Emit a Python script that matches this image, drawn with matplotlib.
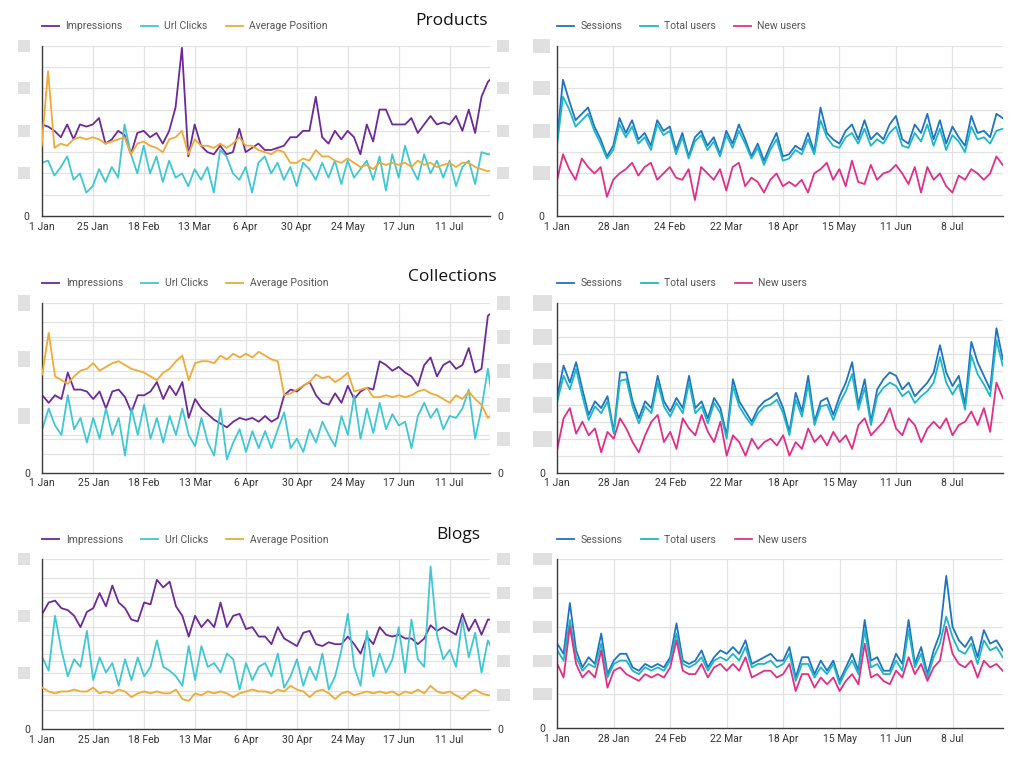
import pandas as pd
import matplotlib.pyplot as plt
from matplotlib.patches import Rectangle

plt.rcParams['font.family'] = ['Roboto', 'DejaVu Sans']

# Data: one value every 3 days, 1 Jan 2024 -> 1 Aug 2024 (72 points)
dates = pd.date_range('2024-01-01', periods=72, freq='3D')

# Products
prod_impressions = [4.3, 4.2, 4.0, 3.7, 4.3, 3.6, 4.3, 4.2, 4.3, 4.6, 3.4, 3.6,
                    4.0, 3.8, 2.9, 3.9, 4.0, 3.7, 3.9, 3.4, 4.0, 5.1, 7.9, 2.8,
                    4.3, 3.3, 3.0, 2.9, 3.3, 2.9, 3.0, 4.1, 3.0, 3.2, 3.4, 3.1,
                    3.1, 3.2, 3.3, 3.7, 3.7, 4.0, 4.0, 5.6, 3.7, 3.4, 4.0, 3.6,
                    4.0, 3.7, 2.9, 4.3, 3.5, 5.0, 5.0, 4.3, 4.3, 4.3, 4.6, 3.9,
                    4.3, 4.7, 4.3, 4.4, 4.3, 4.7, 4.0, 5.0, 3.9, 5.6, 6.3, 6.6]
prod_clicks = [2.5, 2.6, 1.9, 2.3, 2.8, 1.7, 2.0, 1.1, 1.4, 2.2, 1.6, 2.3,
               1.8, 4.3, 2.9, 2.0, 3.3, 2.0, 2.8, 1.6, 2.6, 1.8, 2.0, 1.4,
               2.2, 1.7, 2.3, 1.1, 3.1, 2.8, 2.0, 1.7, 2.3, 1.1, 2.5, 2.8,
               2.0, 2.5, 1.7, 2.3, 1.4, 2.5, 2.2, 1.7, 2.5, 1.8, 2.6, 1.5,
               2.6, 1.8, 2.2, 2.6, 1.7, 2.8, 1.2, 2.9, 1.8, 3.3, 2.3, 1.7,
               2.9, 2.0, 2.6, 1.8, 2.6, 1.4, 2.3, 2.6, 1.5, 3.0, 2.9, 2.9]
prod_position = [3.3, 6.8, 3.2, 3.4, 3.3, 3.6, 3.7, 3.6, 3.7, 3.6, 3.4, 3.5,
                 3.6, 3.7, 2.9, 3.4, 3.5, 3.3, 3.2, 3.0, 3.6, 3.7, 4.0, 2.9,
                 3.6, 3.3, 3.3, 3.2, 3.4, 3.2, 3.4, 3.7, 3.3, 3.3, 3.1, 3.0,
                 2.9, 3.1, 3.0, 2.5, 2.5, 2.7, 2.6, 3.1, 2.8, 2.8, 2.6, 2.5,
                 2.7, 2.5, 2.3, 2.4, 2.2, 2.5, 2.4, 2.5, 2.4, 2.5, 2.3, 2.6,
                 2.4, 2.5, 2.3, 2.4, 2.5, 2.3, 2.5, 2.5, 2.3, 2.2, 2.1, 2.2]
prod_sessions = [3.4, 6.4, 5.4, 4.5, 4.8, 5.1, 4.2, 3.6, 2.8, 3.3, 4.6, 3.9,
                 4.5, 3.6, 3.9, 3.3, 4.5, 4.0, 4.2, 3.1, 3.9, 2.8, 3.7, 4.0,
                 3.3, 3.7, 2.9, 4.0, 3.4, 4.3, 3.6, 2.8, 3.4, 2.6, 3.3, 3.9,
                 2.8, 2.9, 3.3, 3.1, 3.9, 3.0, 5.1, 3.9, 3.6, 3.4, 4.0, 4.3,
                 3.6, 4.5, 3.6, 3.9, 3.6, 4.3, 4.7, 3.6, 3.4, 4.3, 3.9, 4.8,
                 3.6, 4.5, 3.4, 4.2, 3.7, 3.3, 4.7, 3.9, 4.0, 3.7, 4.8, 4.6]
prod_users = [3.2, 5.6, 5.0, 4.2, 4.5, 4.8, 4.0, 3.4, 2.7, 3.1, 4.3, 3.7,
              4.2, 3.4, 3.7, 3.1, 4.3, 3.8, 4.0, 2.9, 3.7, 2.7, 3.5, 3.8,
              3.1, 3.5, 2.8, 3.8, 3.2, 4.0, 3.4, 2.7, 3.2, 2.4, 3.1, 3.6,
              2.6, 2.7, 3.1, 2.9, 3.6, 2.9, 4.5, 3.7, 3.3, 3.2, 3.7, 3.9,
              3.4, 4.1, 3.3, 3.6, 3.4, 3.9, 4.2, 3.3, 3.2, 3.9, 3.5, 4.3,
              3.3, 4.1, 3.1, 3.8, 3.5, 3.0, 4.2, 3.6, 3.7, 3.4, 4.0, 4.1]
prod_new_users = [1.6, 2.9, 2.2, 1.7, 2.7, 2.3, 2.0, 2.3, 0.9, 1.7, 2.0, 2.2,
                  2.5, 1.9, 2.3, 2.5, 1.7, 2.0, 2.3, 1.8, 1.7, 2.2, 0.75, 2.3,
                  2.0, 1.7, 2.2, 1.2, 2.3, 2.5, 1.4, 1.8, 1.6, 1.1, 1.7, 2.0,
                  1.4, 1.6, 1.4, 1.7, 1.1, 2.0, 2.2, 2.5, 1.7, 2.2, 1.4, 2.6,
                  1.6, 1.5, 2.4, 1.7, 2.0, 2.1, 2.4, 2.0, 1.5, 2.3, 1.1, 2.3,
                  1.7, 2.0, 1.4, 1.1, 1.9, 1.7, 2.2, 2.0, 1.7, 2.0, 2.8, 2.4]

# Collections
coll_impressions = [4.1, 3.7, 4.1, 3.9, 5.3, 4.4, 4.4, 4.3, 3.9, 4.3, 3.4, 4.3,
                    4.4, 4.0, 3.2, 4.1, 4.1, 4.3, 4.8, 3.9, 4.6, 4.1, 4.8, 2.9,
                    3.9, 3.4, 3.1, 2.8, 2.6, 2.4, 2.7, 2.9, 2.8, 2.9, 2.7, 3.0,
                    2.7, 2.9, 4.1, 4.4, 4.3, 4.6, 4.8, 4.1, 3.7, 3.6, 4.2, 3.7,
                    4.6, 3.9, 4.3, 4.5, 4.4, 5.9, 5.7, 5.4, 5.6, 5.3, 5.1, 4.6,
                    5.7, 6.1, 5.1, 5.7, 5.9, 5.5, 5.7, 6.6, 5.3, 5.5, 8.3, 8.6]
coll_clicks = [2.3, 3.4, 2.5, 2.0, 4.1, 2.3, 2.9, 1.6, 2.9, 1.8, 3.4, 2.0,
               2.9, 0.9, 3.4, 2.0, 3.6, 1.8, 2.9, 1.6, 3.0, 2.0, 3.4, 2.0,
               1.4, 2.9, 1.6, 0.9, 3.4, 0.7, 1.6, 2.3, 1.1, 2.2, 1.3, 2.2,
               1.3, 2.3, 3.2, 1.3, 1.8, 1.1, 2.3, 1.6, 2.7, 2.0, 1.4, 3.0,
               2.0, 4.1, 1.8, 3.4, 2.1, 3.7, 2.3, 3.1, 2.5, 2.7, 1.3, 3.0,
               3.7, 2.9, 3.4, 2.3, 3.0, 2.9, 3.4, 4.4, 1.8, 3.4, 5.5, 3.2]
coll_position = [5.2, 7.4, 5.1, 4.9, 4.7, 5.1, 5.4, 5.5, 5.8, 5.4, 5.6, 5.8,
                 5.9, 5.7, 5.5, 5.4, 5.3, 5.1, 4.9, 5.3, 5.5, 5.9, 6.2, 4.9,
                 5.8, 5.9, 5.9, 5.8, 6.2, 6.0, 6.3, 6.1, 6.3, 6.1, 6.4, 6.2,
                 6.0, 5.9, 4.1, 4.2, 4.4, 4.6, 4.8, 5.2, 5.0, 5.1, 4.8, 5.0,
                 5.3, 4.3, 4.4, 4.5, 4.0, 4.0, 4.1, 4.0, 4.1, 4.0, 4.1, 4.3,
                 4.4, 4.2, 4.1, 3.9, 3.7, 4.1, 3.9, 4.3, 3.9, 3.6, 2.9, 3.2]
coll_sessions = [4.5, 6.3, 5.3, 6.5, 4.9, 3.4, 4.2, 3.8, 4.5, 2.4, 5.9, 5.9,
                 4.2, 3.2, 4.2, 3.8, 5.7, 4.2, 3.6, 4.4, 3.8, 5.7, 3.8, 4.2,
                 3.2, 4.4, 3.8, 2.2, 5.5, 4.2, 3.6, 3.0, 3.8, 4.2, 4.4, 4.7,
                 3.8, 2.4, 4.7, 3.6, 5.7, 3.0, 4.2, 4.4, 3.4, 4.5, 5.3, 6.5,
                 4.0, 5.5, 3.0, 4.9, 5.5, 5.9, 5.7, 4.9, 5.3, 4.5, 4.9, 5.3,
                 5.9, 7.5, 5.9, 5.1, 5.7, 4.0, 7.7, 6.5, 5.7, 4.9, 8.5, 6.7]
coll_users = [4.2, 5.7, 4.9, 6.1, 4.5, 3.1, 3.9, 3.5, 4.2, 2.3, 5.4, 5.5,
              3.9, 2.9, 3.9, 3.5, 5.3, 3.9, 3.3, 4.1, 3.5, 5.3, 3.5, 3.9,
              2.9, 4.1, 3.5, 2.0, 5.1, 3.9, 3.3, 2.8, 3.5, 3.9, 4.0, 4.3,
              3.5, 2.2, 4.3, 3.3, 5.2, 2.8, 3.9, 4.0, 3.1, 4.1, 4.8, 5.8,
              3.7, 5.0, 2.8, 4.5, 5.0, 5.3, 5.1, 4.5, 4.8, 4.1, 4.5, 4.8,
              5.3, 6.8, 5.3, 4.6, 5.2, 3.7, 6.9, 5.8, 5.2, 4.5, 7.8, 6.3]
coll_new_users = [1.4, 3.2, 3.8, 2.3, 3.0, 2.2, 2.6, 1.2, 2.4, 2.0, 3.2, 2.6,
                  1.8, 1.2, 2.2, 3.0, 3.4, 1.8, 2.4, 1.4, 3.2, 2.6, 2.2, 3.4,
                  2.4, 1.8, 3.0, 1.0, 2.2, 1.8, 1.0, 2.0, 1.4, 1.8, 2.0, 1.6,
                  2.2, 1.0, 1.8, 1.4, 2.6, 1.8, 2.2, 1.6, 2.4, 1.8, 2.2, 1.4,
                  2.8, 3.2, 2.2, 2.6, 3.0, 3.8, 2.6, 2.2, 3.2, 2.8, 1.8, 2.6,
                  3.0, 2.6, 3.2, 2.2, 2.8, 3.0, 3.6, 2.8, 3.8, 2.4, 5.3, 4.4]

# Blogs
blog_impressions = [6.1, 6.7, 6.8, 6.4, 6.3, 6.0, 5.4, 6.2, 6.4, 7.2, 6.5, 7.6,
                    6.7, 6.4, 5.8, 5.7, 6.7, 6.6, 7.9, 7.5, 7.8, 6.5, 6.0, 4.9,
                    6.0, 5.4, 5.8, 5.4, 6.7, 5.4, 6.0, 6.1, 5.3, 5.4, 4.9, 4.9,
                    4.5, 5.4, 4.8, 4.6, 4.4, 5.1, 5.2, 4.5, 4.4, 4.6, 4.5, 4.5,
                    4.9, 4.5, 4.0, 4.9, 4.5, 5.4, 5.0, 4.9, 5.0, 4.8, 4.8, 4.5,
                    4.8, 5.5, 5.2, 5.4, 5.2, 5.0, 6.1, 5.2, 5.8, 5.0, 5.8, 5.8]
blog_clicks = [3.8, 3.1, 6.0, 4.2, 2.8, 3.7, 3.3, 5.2, 2.6, 3.8, 3.0, 3.5,
               2.3, 3.7, 2.6, 3.8, 2.8, 3.3, 4.7, 3.3, 3.1, 2.8, 2.3, 4.4,
               2.6, 4.4, 3.3, 3.5, 3.0, 4.0, 3.7, 2.1, 3.5, 2.6, 3.3, 3.5,
               2.8, 4.0, 2.2, 2.8, 3.7, 2.3, 3.3, 2.6, 4.0, 2.1, 2.8, 4.2,
               6.1, 3.3, 2.3, 5.2, 2.8, 4.0, 3.0, 3.7, 5.4, 3.0, 5.8, 3.7,
               3.3, 8.6, 5.0, 3.7, 4.2, 3.3, 5.8, 3.8, 5.1, 3.0, 4.7, 4.0]
blog_position = [2.2, 2.0, 1.9, 2.0, 2.0, 2.1, 2.0, 2.0, 2.2, 1.9, 2.0, 1.9,
                 2.1, 2.0, 1.7, 1.9, 2.0, 1.9, 2.0, 1.9, 1.9, 2.1, 1.6, 1.5,
                 1.9, 1.8, 2.0, 1.9, 2.0, 1.9, 1.7, 1.9, 2.0, 2.1, 2.0, 2.0,
                 1.9, 2.1, 2.0, 2.3, 2.1, 2.0, 1.7, 2.0, 2.1, 1.9, 1.6, 1.9,
                 2.0, 1.8, 1.9, 2.0, 1.9, 2.0, 1.9, 2.0, 1.8, 2.0, 1.9, 2.1,
                 1.9, 2.3, 2.0, 1.9, 2.0, 1.8, 1.6, 1.9, 2.1, 1.9, 1.8, 1.8]
blog_sessions = [2.5, 2.2, 3.7, 2.3, 1.8, 2.1, 1.9, 2.8, 1.6, 2.0, 2.2, 2.2,
                 1.8, 1.7, 1.9, 1.8, 1.9, 1.8, 2.1, 3.1, 2.0, 1.9, 2.0, 2.3,
                 1.8, 2.1, 2.3, 2.2, 2.4, 2.2, 2.6, 1.9, 2.0, 2.1, 2.2, 2.0,
                 2.0, 2.4, 1.5, 2.1, 2.1, 1.6, 2.0, 1.7, 2.0, 1.4, 1.8, 2.2,
                 1.7, 3.2, 2.0, 2.1, 1.7, 1.7, 2.2, 1.9, 3.2, 1.9, 2.4, 1.6,
                 2.3, 2.8, 4.5, 3.0, 2.6, 2.4, 2.7, 2.1, 2.9, 2.5, 2.6, 2.3]
blog_users = [2.3, 2.0, 3.2, 2.1, 1.7, 1.9, 1.8, 2.5, 1.5, 1.9, 2.0, 2.0,
              1.7, 1.6, 1.8, 1.7, 1.8, 1.7, 2.0, 2.8, 1.9, 1.8, 1.9, 2.1,
              1.7, 2.0, 2.1, 2.0, 2.2, 2.0, 2.4, 1.8, 1.9, 1.9, 2.0, 1.8,
              1.9, 2.2, 1.4, 1.9, 1.9, 1.5, 1.8, 1.6, 1.9, 1.3, 1.7, 2.0,
              1.6, 2.9, 1.8, 1.9, 1.6, 1.6, 2.0, 1.7, 2.9, 1.8, 2.2, 1.5,
              2.1, 2.5, 3.3, 2.7, 2.3, 2.2, 2.5, 1.9, 2.6, 2.3, 2.4, 2.1]
blog_new_users = [1.9, 1.5, 3.0, 1.9, 1.5, 1.7, 1.5, 2.3, 1.2, 1.7, 1.8, 1.6,
                  1.5, 1.4, 1.6, 1.5, 1.6, 1.5, 1.8, 2.6, 1.7, 1.6, 1.6, 1.9,
                  1.5, 1.8, 1.9, 1.7, 1.9, 1.7, 2.1, 1.5, 1.6, 1.7, 1.7, 1.5,
                  1.6, 1.9, 1.1, 1.6, 1.6, 1.2, 1.5, 1.3, 1.5, 1.1, 1.4, 1.6,
                  1.3, 2.5, 1.5, 1.6, 1.4, 1.3, 1.7, 1.5, 2.1, 1.6, 1.9, 1.4,
                  1.8, 2.0, 3.0, 2.2, 1.9, 1.8, 2.0, 1.5, 2.0, 1.8, 1.9, 1.7]

left_tick_dates = ['2024-01-01', '2024-01-25', '2024-02-18', '2024-03-13', '2024-04-06',
                   '2024-04-30', '2024-05-24', '2024-06-17', '2024-07-11']
left_tick_labels = ['1 Jan', '25 Jan', '18 Feb', '13 Mar', '6 Apr', '30 Apr', '24 May', '17 Jun', '11 Jul']
right_tick_dates = ['2024-01-01', '2024-01-28', '2024-02-24', '2024-03-22', '2024-04-18',
                    '2024-05-15', '2024-06-11', '2024-07-08']
right_tick_labels = ['1 Jan', '28 Jan', '24 Feb', '22 Mar', '18 Apr', '15 May', '11 Jun', '8 Jul']

# Colours
C_IMPR, C_CLICK, C_POS = '#6c2a98', '#3fc7d3', '#f1aa35'
C_SESS, C_USERS, C_NEW = '#1d74c3', '#1eb6c7', '#e02f86'
GRID = '#e2e2e2'
BLOCK = '#e0e0e0'

fig = plt.figure(figsize=(10.24, 7.82), dpi=100)
W, H = 1024, 782


def px_axes(x0, x1, ytop, ybot):
    return fig.add_axes([x0 / W, 1 - ybot / H, (x1 - x0) / W, (ybot - ytop) / H])


def style(ax, ymax, grids, tdates, tlabels, xend, ypad):
    ax.set_xlim(pd.Timestamp('2024-01-01'), pd.Timestamp(xend))
    ax.set_ylim(0, ymax)
    for g in grids:
        ax.axhline(g, color=GRID, lw=0.9, zorder=0)
    ax.set_xticks(pd.to_datetime(tdates))
    ax.set_xticklabels(tlabels)
    ax.grid(axis='x', color=GRID, lw=0.9)
    ax.set_axisbelow(True)
    ax.set_yticks([0])
    ax.set_yticklabels(['0'])
    ax.tick_params(axis='both', length=0, labelsize=7.5, colors='#333333')
    ax.tick_params(axis='x', pad=4)
    ax.tick_params(axis='y', pad=ypad)
    for s in ['top', 'right']:
        ax.spines[s].set_visible(False)
    for s in ['left', 'bottom']:
        ax.spines[s].set_color('#3a3a3a')
        ax.spines[s].set_linewidth(1.0)


def blocks(ax, ymax, vals, x0, x1, hpx):
    # blurred-out axis labels in the source image
    pos = ax.get_position()
    for v in vals:
        yc = pos.y0 + v / ymax * pos.height
        fig.patches.append(Rectangle((x0 / W, yc - hpx / 2 / H), (x1 - x0) / W, hpx / H,
                                     transform=fig.transFigure, color=BLOCK, lw=0))


def legend(ax, handles, labels):
    ax.legend(handles, labels, loc='lower left', bbox_to_anchor=(0, 1.085), ncol=3,
              frameon=False, fontsize=7.5, handlelength=1.65, handletextpad=0.6,
              columnspacing=1.75, borderpad=0, borderaxespad=0, labelcolor='#555555')


def left_panel(ax, impr, clicks, pos, ymax, grids, title, title_xy):
    style(ax, ymax, grids, left_tick_dates, left_tick_labels, '2024-07-30', 9)
    l1, = ax.plot(dates, impr, color=C_IMPR, lw=1.3)
    l2, = ax.plot(dates, clicks, color=C_CLICK, lw=1.3)
    ax2 = ax.twinx()
    ax2.set_ylim(0, ymax)
    l3, = ax2.plot(dates, pos, color=C_POS, lw=1.3)
    ax2.set_yticks([0])
    ax2.set_yticklabels(['0'])
    ax2.tick_params(length=0, labelsize=7.5, colors='#333333', pad=5)
    for s in ax2.spines.values():
        s.set_visible(False)
    legend(ax, [l1, l2, l3], ['Impressions', 'Url Clicks', 'Average Position'])
    fig.text(title_xy[0] / W, 1 - title_xy[1] / H, title, ha='right', va='center',
             fontsize=12.5, color='#111111', family=['Open Sans', 'DejaVu Sans'])


def right_panel(ax, sess, users, new, ymax, grids):
    style(ax, ymax, grids, right_tick_dates, right_tick_labels, '2024-08-01', 9)
    l1, = ax.plot(dates, sess, color=C_SESS, lw=1.3)
    l2, = ax.plot(dates, users, color=C_USERS, lw=1.3)
    l3, = ax.plot(dates, new, color=C_NEW, lw=1.3)
    legend(ax, [l1, l2, l3], ['Sessions', 'Total users', 'New users'])


# Products row
ax = px_axes(41.7, 490, 45.7, 216)
left_panel(ax, prod_impressions, prod_clicks, prod_position, 8, range(1, 9),
           'Products', (488, 21))
blocks(ax, 8, [2, 4, 6, 8], 18, 30, 12)
blocks(ax, 8, [2, 4, 6, 8], 497, 509, 12)
ax = px_axes(556.7, 1002.7, 45.7, 216)
right_panel(ax, prod_sessions, prod_users, prod_new_users, 8, range(1, 9))
blocks(ax, 8, [2, 4, 6, 8], 533, 550, 14)

# Collections row
mixed_grids = list(range(1, 10)) + [1.8, 3.6, 5.4, 7.2]
ax = px_axes(42.3, 490, 302.7, 472.7)
left_panel(ax, coll_impressions, coll_clicks, coll_position, 9, mixed_grids,
           'Collections', (497, 277))
blocks(ax, 9, [3, 6, 9], 18, 30, 16)
blocks(ax, 9, [1.8, 3.6, 5.4, 7.2, 9], 497, 510, 14)
ax = px_axes(557.3, 1002.7, 302.7, 472.7)
right_panel(ax, coll_sessions, coll_users, coll_new_users, 10, range(1, 11))
blocks(ax, 10, [2, 4, 6, 8, 10], 533, 552, 16)

# Blogs row
ax = px_axes(42.3, 490, 559, 729.3)
left_panel(ax, blog_impressions, blog_clicks, blog_position, 9, mixed_grids,
           'Blogs', (480, 535))
blocks(ax, 9, [3, 6, 9], 18, 30, 12)
blocks(ax, 9, [1.8, 3.6, 5.4, 7.2, 9], 497, 510, 12)
ax = px_axes(557.3, 1002.7, 559, 728.3)
right_panel(ax, blog_sessions, blog_users, blog_new_users, 5, range(1, 6))
blocks(ax, 5, [1, 2, 3, 4, 5], 533, 552, 12)

fig.savefig('out.png', dpi=100, facecolor='white')
